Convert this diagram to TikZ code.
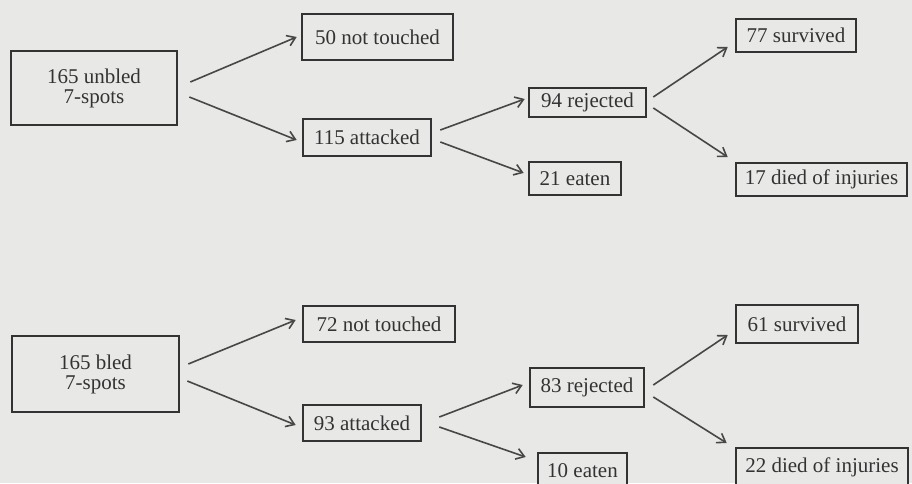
\documentclass[tikz,border=0pt]{standalone}
\usepackage{fontspec}
\setmainfont{Liberation Serif}
\usetikzlibrary{arrows.meta}
\definecolor{paper}{HTML}{E8E8E6}
\definecolor{ink}{HTML}{333333}
\begin{document}
\begin{tikzpicture}[x=1pt,y=1pt,
  box/.style={draw=ink, line width=2.6pt, fill=paper, inner sep=0pt, text=ink,
    font=\fontsize{21}{20}\selectfont, align=center},
  arr/.style={draw=ink!90, line width=1.6pt,
    -{Straight Barb[length=8pt,width=11pt,line width=1.6pt]}}]
\useasboundingbox[fill=paper] (0,0) rectangle (912,483);
\begin{scope}
\clip (0,0) rectangle (912,483);
% top tree
\node[box, minimum width=166pt, minimum height=74pt] (A) at (94,395) {165 unbled\\7-spots};
\node[box, minimum width=151pt, minimum height=46pt] (B) at (377.5,446) {50 not touched};
\node[box, minimum width=128pt, minimum height=37pt] (C) at (367,345.5) {115 attacked};
\node[box, minimum width=117pt, minimum height=29pt] (D) at (587.5,380.5) {94 rejected};
\node[box, minimum width=92pt, minimum height=33pt] (E) at (575,304.5) {21 eaten};
\node[box, minimum width=120pt, minimum height=33pt] (F) at (796,447.5) {77 survived};
\node[box, minimum width=171pt, minimum height=33pt] (G) at (821.5,303.5) {17 died of injuries};
% bottom tree
\node[box, minimum width=167pt, minimum height=76pt] (H) at (95.5,109) {165 bled\\7-spots};
\node[box, minimum width=152pt, minimum height=36pt] (I) at (379,159) {72 not touched};
\node[box, minimum width=118pt, minimum height=36pt] (J) at (362,60) {93 attacked};
\node[box, minimum width=114pt, minimum height=39pt] (K) at (587,95.5) {83 rejected};
\node[box, minimum width=89pt, minimum height=36pt] (L) at (582.5,12) {10 eaten};
\node[box, minimum width=172pt, minimum height=38pt] (N) at (822,16) {22 died of injuries};
\node[box, minimum width=122pt, minimum height=38pt] (M) at (797,159) {61 survived};
% arrows top
\draw[arr] ([shift={(12,6)}]A.east) -- ([shift={(-4,0)}]B.west);
\draw[arr] ([shift={(11,-9)}]A.east) -- ([shift={(-5,-2.5)}]C.west);
\draw[arr] ([shift={(8,7.5)}]C.east) -- ([shift={(-3,3.5)}]D.west);
\draw[arr] ([shift={(8,-4.5)}]C.east) -- ([shift={(-4,5.5)}]E.west);
\draw[arr] ([shift={(6,5.5)}]D.east) -- ([shift={(-7,-11.5)}]F.west);
\draw[arr] ([shift={(6,-5.5)}]D.east) -- ([shift={(-7,22.5)}]G.west);
% arrows bottom
\draw[arr] ([shift={(8,10)}]H.east) -- ([shift={(-6,4)}]I.west);
\draw[arr] ([shift={(7,-7)}]H.east) -- ([shift={(-6,-2)}]J.west);
\draw[arr] ([shift={(17,6)}]J.east) -- ([shift={(-6,2.5)}]K.west);
\draw[arr] ([shift={(17,-4)}]J.east) -- ([shift={(-11,14)}]L.west);
\draw[arr] ([shift={(8,2.5)}]K.east) -- ([shift={(-7,-11)}]M.west);
\draw[arr] ([shift={(8,-9.5)}]K.east) -- ([shift={(-8,24)}]N.west);
\end{scope}
\end{tikzpicture}
\end{document}
